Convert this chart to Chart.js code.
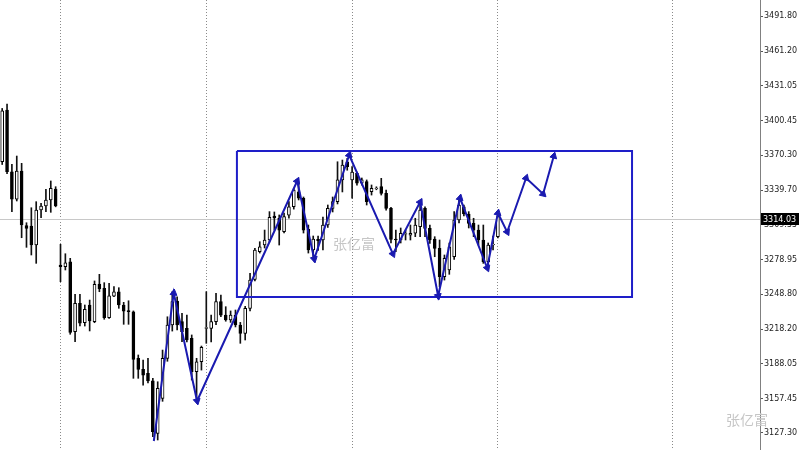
<!DOCTYPE html>
<html><head><meta charset="utf-8">
<script src="https://cdn.jsdelivr.net/npm/chart.js@4.4.1/dist/chart.umd.min.js"></script>
<style>html,body{margin:0;padding:0;background:#fff;overflow:hidden}#wrap{width:800px;height:450px}</style>
</head><body><div id="wrap"><canvas id="c" width="800" height="450"></canvas></div>
<script>
const opens=[3364.4,3409.6,3355.7,3331.6,3356.3,3308.5,3308.2,3291.6,3322.2,3325.7,3331.0,3340.6,3274.1,3272.6,3277.0,3215.8,3240.7,3223.7,3239.2,3224.6,3257.5,3253.8,3228.1,3247.0,3250.8,3239.2,3234.2,3233.3,3192.6,3182.9,3179.5,3172.8,3127.0,3157.6,3192.6,3221.7,3242.7,3224.6,3218.8,3210.1,3180.9,3189.6,3218.8,3218.8,3224.6,3242.1,3230.4,3226.1,3230.4,3221.7,3214.4,3236.3,3261.6,3285.8,3291.6,3296.0,3317.0,3315.0,3303.3,3317.8,3325.1,3338.2,3332.5,3305.3,3287.3,3296.6,3296.0,3309.1,3323.7,3329.5,3348.5,3364.4,3348.5,3354.3,3345.6,3347.0,3338.2,3340.8,3342.6,3336.8,3323.7,3296.9,3296.0,3301.0,3300.2,3301.9,3307.6,3323.7,3306.2,3296.9,3288.7,3263.9,3269.8,3281.4,3313.5,3325.1,3318.7,3310.6,3304.7,3296.0,3277.0,3291.6,3298.9];
const highs=[3411.0,3414.9,3362.2,3369.4,3363.0,3311.1,3324.2,3329.5,3328.1,3340.3,3347.6,3342.6,3292.2,3284.0,3280.0,3248.5,3248.5,3239.2,3243.5,3260.2,3266.0,3258.7,3258.2,3255.2,3254.3,3241.5,3242.9,3234.0,3195.5,3191.1,3192.6,3175.1,3172.1,3199.8,3228.9,3250.8,3246.4,3231.9,3230.4,3213.0,3192.6,3203.3,3250.8,3230.4,3249.4,3247.9,3237.7,3234.0,3234.8,3224.0,3238.0,3266.9,3288.7,3294.5,3304.7,3320.8,3320.5,3317.9,3319.6,3329.5,3341.2,3346.9,3333.6,3309.1,3299.5,3299.5,3316.1,3326.6,3333.6,3364.4,3365.9,3367.4,3360.1,3355.4,3350.2,3348.5,3344.1,3342.5,3349.9,3339.7,3324.5,3304.7,3306.5,3304.7,3309.1,3315.0,3329.5,3325.1,3309.1,3298.9,3296.0,3282.9,3293.4,3320.8,3331.0,3326.6,3320.8,3315.0,3309.1,3309.1,3293.4,3299.5,3320.8];
const lows=[3362.0,3354.0,3320.7,3330.1,3298.0,3289.6,3282.9,3275.6,3315.5,3320.7,3320.2,3325.0,3259.5,3269.8,3213.6,3207.1,3220.8,3220.8,3216.5,3223.7,3250.8,3226.7,3227.5,3246.5,3236.3,3222.3,3222.3,3175.1,3175.1,3169.2,3171.0,3124.1,3121.2,3155.0,3190.0,3216.4,3217.3,3207.1,3207.0,3173.6,3155.5,3182.3,3205.7,3207.0,3222.0,3229.0,3225.0,3224.0,3220.0,3205.7,3208.6,3234.0,3260.2,3284.6,3289.0,3294.3,3304.7,3291.6,3302.1,3315.0,3323.0,3331.0,3302.1,3284.6,3281.2,3287.0,3287.3,3307.0,3320.5,3327.5,3338.0,3357.0,3332.5,3344.0,3344.0,3326.6,3335.3,3339.9,3335.3,3322.0,3293.4,3285.8,3293.4,3296.0,3296.0,3298.9,3298.9,3298.9,3293.1,3281.4,3255.2,3261.0,3266.0,3279.0,3311.0,3317.0,3306.5,3298.9,3291.6,3275.6,3274.1,3287.3,3297.8];
const closes=[3409.0,3355.7,3331.8,3356.3,3309.1,3306.2,3291.6,3322.2,3325.7,3331.0,3341.2,3325.7,3272.6,3276.1,3215.3,3240.7,3223.2,3235.4,3225.2,3257.3,3253.2,3228.1,3247.3,3250.8,3239.2,3233.9,3233.3,3191.7,3182.9,3177.9,3172.8,3128.4,3166.4,3192.6,3221.7,3242.1,3221.7,3215.8,3208.6,3180.9,3189.6,3202.2,3219.5,3224.6,3242.1,3230.4,3226.1,3230.4,3221.7,3214.4,3236.3,3261.0,3287.3,3290.1,3296.0,3315.9,3315.2,3304.7,3316.4,3325.1,3339.7,3332.5,3304.7,3287.3,3296.9,3295.4,3309.1,3323.7,3329.5,3348.5,3361.6,3360.1,3355.4,3345.6,3348.5,3329.5,3341.2,3341.4,3336.8,3323.7,3296.6,3296.0,3301.9,3301.6,3301.9,3309.1,3322.2,3306.2,3296.0,3288.7,3263.9,3280.0,3290.1,3313.5,3326.6,3318.7,3310.6,3304.7,3296.0,3277.0,3291.6,3292.2,3316.4];
const yTickValues=[3491.80,3461.20,3431.05,3400.45,3370.30,3339.70,3309.55,3278.95,3248.80,3218.20,3188.05,3157.45,3127.30];
const separatorBars=[12,42,72,102,138];
const zigzagBar=[31.2,35.3,40.1,60.7,64.2,71.4,80.4,86.0,89.7,94.2,99.8,102.0,103.9,107.8,111.3,113.5];
const zigzagPrice=[3120.3,3249.7,3155.3,3347.6,3279.4,3370.3,3283.8,3329.2,3247.0,3332.7,3271.5,3319.6,3303.0,3350.2,3336.2,3369.4];
const boxBars=[48.3,129.6];
const boxPrices=[3373.8,3246.2];
const lastPrice=3314.03;
const watermark='张亿富';

const idx=opens.map((_,i)=>i);
const bodyData=idx.map(i=>({x:i,y:[opens[i],closes[i]]}));
const wickData=idx.map(i=>({x:i,y:[lows[i],highs[i]]}));
const zigData=zigzagBar.map((b,i)=>({x:b,y:zigzagPrice[i]}));
const boxData=[
 {x:boxBars[0],y:boxPrices[0]},{x:boxBars[1],y:boxPrices[0]},
 {x:boxBars[1],y:boxPrices[1]},{x:boxBars[0],y:boxPrices[1]},{x:boxBars[0],y:boxPrices[0]}];

const overlay={id:'overlay',
 beforeDatasetsDraw(chart){
  const {ctx,chartArea,scales:{y}}=chart;
  const py=Math.round(y.getPixelForValue(lastPrice))+0.5;
  ctx.save();
  ctx.strokeStyle='#c8c8c8';ctx.lineWidth=1;
  ctx.beginPath();ctx.moveTo(chartArea.left,py);ctx.lineTo(chartArea.right,py);ctx.stroke();
  ctx.fillStyle='#c6c6c6';ctx.font='14px "Noto Sans CJK SC"';
  ctx.textAlign='center';ctx.textBaseline='middle';
  ctx.fillText(watermark,354,244);
  ctx.fillText(watermark,747,420);
  ctx.restore();
 },
 afterDraw(chart){
  const {ctx,chartArea,scales:{y}}=chart;
  const py=Math.round(y.getPixelForValue(lastPrice));
  ctx.save();
  ctx.fillStyle='#000';
  ctx.fillRect(chartArea.right+1,py-6,38,12);
  ctx.fillStyle='#fff';ctx.font='8px "DejaVu Sans"';
  ctx.textAlign='left';ctx.textBaseline='middle';
  ctx.fillText(lastPrice.toFixed(2),chartArea.right+3,py+0.5);
  ctx.restore();
 }
};

new Chart(document.getElementById('c'),{
 type:'bar',
 data:{datasets:[
  {type:'bar',data:wickData,backgroundColor:'#111',borderWidth:0,barThickness:1,grouped:false,order:3},
  {type:'bar',data:bodyData,backgroundColor:ctx=>{const i=ctx.dataIndex;return closes[i]>=opens[i]?'#ffffff':'#000000';},
   borderColor:'#000',borderWidth:1,borderSkipped:false,barThickness:3,grouped:false,order:2},
  {type:'line',data:boxData,borderColor:'#1e1ec8',borderWidth:2,pointRadius:0,tension:0,fill:false,order:1},
  {type:'line',data:zigData,borderColor:'#1a1ab0',borderWidth:2,tension:0,fill:false,order:0,
   pointStyle:'triangle',
   pointRadius:ctx=>ctx.dataIndex===0?0:4,
   pointBackgroundColor:'#1a1ab0',pointBorderColor:'#1a1ab0',pointBorderWidth:1,
   pointRotation:ctx=>{
     const i=ctx.dataIndex;if(i===0)return 0;
     const sx=ctx.chart.scales.x,sy=ctx.chart.scales.y;
     const dx=sx.getPixelForValue(zigzagBar[i])-sx.getPixelForValue(zigzagBar[i-1]);
     const dy=sy.getPixelForValue(zigzagPrice[i])-sy.getPixelForValue(zigzagPrice[i-1]);
     return Math.atan2(dx,-dy)*180/Math.PI;
   }}
 ]},
 options:{
  responsive:false,animation:false,events:[],
  layout:{padding:0,autoPadding:false},
  plugins:{legend:{display:false},tooltip:{enabled:false}},
  scales:{
   x:{type:'linear',min:-0.449,max:155.93,offset:false,
    afterBuildTicks:s=>{s.ticks=separatorBars.map(v=>({value:v}));},
    afterFit:s=>{s.height=0;s.paddingLeft=0;s.paddingRight=0;},
    ticks:{display:false},
    grid:{display:true,offset:false,drawTicks:false,drawOnChartArea:true,color:'#8a8a8a',lineWidth:1},
    border:{display:false,dash:[1,2]}},
   y:{type:'linear',position:'right',min:3112.44,max:3505.79,
    afterBuildTicks:s=>{s.ticks=yTickValues.map(v=>({value:v}));},
    afterFit:s=>{s.width=40;s.paddingTop=0;s.paddingBottom=0;},
    grid:{drawOnChartArea:false,drawTicks:true,tickLength:3,color:'#555'},
    border:{display:true,color:'#808080',width:1},
    ticks:{padding:1,color:'#222',font:{family:'DejaVu Sans',size:8},autoSkip:false,callback:v=>Number(v).toFixed(2)}}
  }
 },
 plugins:[overlay]
});
</script></body></html>
